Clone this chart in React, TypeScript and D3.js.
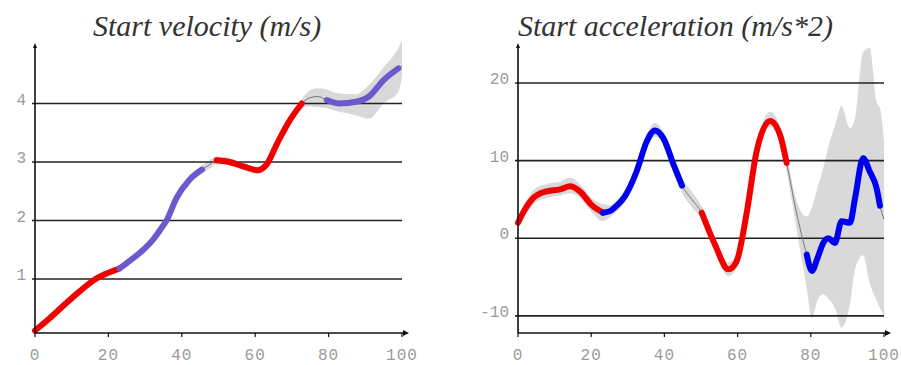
import React from "react";
import * as d3 from "d3";

// Start velocity (m/s)
const velT = [0, 4, 8, 12, 16, 19, 23, 26, 29, 32, 34, 36, 38.5, 42, 45.5, 47.5, 49.5, 53, 57, 60.5, 63, 66, 69.5, 72.7, 75, 77, 79.5, 83, 87.5, 91, 95, 99, 100];
const velV = [0.12, 0.33, 0.56, 0.78, 0.98, 1.08, 1.18, 1.32, 1.47, 1.66, 1.83, 2.02, 2.38, 2.69, 2.87, 2.95, 3.03, 3.0, 2.92, 2.86, 2.95, 3.32, 3.72, 4.0, 4.1, 4.12, 4.06, 4.0, 4.03, 4.12, 4.4, 4.6, 4.64];
const velLo = [0.08, 0.28, 0.51, 0.73, 0.93, 1.03, 1.13, 1.26, 1.41, 1.6, 1.77, 1.96, 2.32, 2.63, 2.8, 2.88, 2.96, 2.94, 2.86, 2.8, 2.89, 3.26, 3.66, 3.93, 3.95, 3.94, 3.92, 3.86, 3.8, 3.74, 4.0, 4.2, 4.46];
const velHi = [0.17, 0.38, 0.61, 0.83, 1.03, 1.13, 1.24, 1.38, 1.53, 1.72, 1.89, 2.08, 2.44, 2.75, 2.94, 3.03, 3.1, 3.07, 2.98, 2.92, 3.01, 3.38, 3.78, 4.08, 4.23, 4.26, 4.24, 4.17, 4.16, 4.32, 4.62, 4.95, 5.08];
const velSegments: [number, number, string][] = [
  [0, 23, "#f20000"],
  [23, 45.5, "#6a5acd"],
  [49.5, 72.7, "#f20000"],
  [79.5, 99, "#6a5acd"],
];
const velTicks = [1, 2, 3, 4];

// Start acceleration (m/s*2)
const accT = [0, 2, 4.2, 7.8, 11.5, 14.2, 16.9, 20.1, 23.2, 25.1, 27, 29.2, 32.4, 35.2, 37.4, 39.7, 42.5, 44.8, 47.5, 50.2, 53.8, 57.5, 59.7, 62.4, 65.2, 68.9, 71.6, 73.4, 76, 78.9, 80.3, 81.8, 83.4, 84.8, 86.6, 88.4, 90.7, 92.1, 94.3, 96.1, 98, 98.9, 100];
const accV = [2.0, 3.8, 5.2, 6.05, 6.3, 6.7, 6.05, 4.3, 3.3, 3.5, 4.2, 5.4, 8.6, 12.5, 13.9, 12.9, 9.5, 6.8, 5.0, 3.3, -0.8, -4.0, -3.0, 3.05, 11.2, 15.1, 13.3, 9.7, 3.5, -2.1, -4.2, -2.6, -0.6, 0.0, -0.6, 2.2, 2.0, 5.2, 10.3, 8.6, 6.4, 4.2, 2.5];
const accLo = [1.2, 3.0, 4.4, 5.2, 5.5, 5.8, 5.2, 3.4, 2.2, 2.7, 3.5, 4.7, 7.9, 11.7, 13.1, 12.1, 8.7, 5.9, 4.0, 2.5, -1.6, -4.9, -3.8, 2.3, 10.4, 14.3, 12.5, 8.6, 1.5, -6.5, -10.3, -8.0, -7.2, -7.8, -9.0, -11.5, -8.5, -4.0, -2.2, -5.8, -8.0, -9.0, -10.0];
const accHi = [2.8, 4.6, 6.2, 7.0, 7.3, 7.8, 7.0, 5.2, 4.4, 4.3, 4.9, 6.1, 9.3, 13.3, 14.9, 13.7, 10.3, 7.7, 6.0, 4.1, 0.0, -3.1, -2.2, 3.8, 12.0, 16.3, 14.3, 10.8, 5.0, 2.8, 4.0, 6.5, 9.0, 11.8, 14.5, 17.0, 14.2, 15.5, 24.0, 24.5, 17.5, 16.8, 12.5];
const accSegments: [number, number, string][] = [
  [0, 23.2, "#f20000"],
  [23.2, 44.8, "#0000ee"],
  [50.2, 73.4, "#f20000"],
  [78.9, 98.9, "#0000ee"],
];
const accTicks = [-10, 0, 10, 20];

const xTicks = [0, 20, 40, 60, 80, 100];

type Pt = { t: number; v: number; lo: number; hi: number };

interface PanelProps {
  title: string;
  titleX: number;
  left: number;
  right: number;
  yDomain: [number, number];
  t: number[];
  v: number[];
  lo: number[];
  hi: number[];
  segments: [number, number, string][];
  yTicks: number[];
}

function Panel(props: PanelProps) {
  const { title, titleX, left, right, yDomain, t, v, lo, hi, segments, yTicks } = props;
  const top = 45;
  const bottom = 333;
  const x = d3.scaleLinear().domain([0, 100]).range([left, right]);
  const y = d3.scaleLinear().domain(yDomain).range([bottom, top]);

  const pts: Pt[] = t.map((d, i) => ({ t: d, v: v[i], lo: lo[i], hi: hi[i] }));

  const band = d3
    .area<Pt>()
    .x((d) => x(d.t))
    .y0((d) => y(d.lo))
    .y1((d) => y(d.hi))
    .curve(d3.curveMonotoneX);
  const ln = d3
    .line<Pt>()
    .x((d) => x(d.t))
    .y((d) => y(d.v))
    .curve(d3.curveMonotoneX);

  const labelFont = "'Liberation Mono', 'DejaVu Sans Mono', monospace";

  return (
    <g>
      <text
        x={titleX}
        y={36}
        fontFamily="'Liberation Serif', 'DejaVu Serif', serif"
        fontStyle="italic"
        fontSize={30}
        fill="#333"
      >
        {title}
      </text>
      <path d={band(pts) || ""} fill="#d9d9d9" />
      {yTicks.map((tk) => (
        <g key={tk}>
          <line x1={left - 3} x2={right} y1={y(tk)} y2={y(tk)} stroke="#222" strokeWidth={1.6} />
          <text
            x={left - 9}
            y={y(tk) + 1}
            textAnchor="end"
            fontFamily={labelFont}
            fontSize={16}
            fill="#9a9a9a"
          >
            {tk}
          </text>
        </g>
      ))}
      <path d={ln(pts) || ""} fill="none" stroke="#777" strokeWidth={1} />
      {segments.map(([a, b, c], i) => (
        <path
          key={i}
          d={ln(pts.filter((p) => p.t >= a && p.t <= b)) || ""}
          fill="none"
          stroke={c}
          strokeWidth={6}
          strokeLinecap="round"
          strokeLinejoin="round"
        />
      ))}
      <line x1={left} x2={left} y1={bottom} y2={top} stroke="#111" strokeWidth={1.6} />
      <path d={`M${left - 2},${top + 3}L${left},${top - 2}L${left + 2},${top + 3}Z`} fill="#111" />
      <line x1={left} x2={right + 3} y1={bottom} y2={bottom} stroke="#111" strokeWidth={1.6} />
      <path d={`M${right + 1},${bottom - 3}L${right + 7},${bottom}L${right + 1},${bottom + 3}Z`} fill="#111" />
      {xTicks.map((tk) => (
        <g key={tk}>
          <line x1={x(tk)} x2={x(tk)} y1={bottom} y2={bottom + 4} stroke="#111" strokeWidth={1.2} />
          <text
            x={x(tk)}
            y={360}
            textAnchor="middle"
            fontFamily={labelFont}
            fontSize={16}
            letterSpacing={1}
            fill="#9a9a9a"
          >
            {tk}
          </text>
        </g>
      ))}
    </g>
  );
}

export default function App() {
  return (
    <svg
      width={901}
      height={365}
      style={{ position: "absolute", left: 0, top: 0, background: "#fff" }}
    >
      <Panel
        title="Start velocity (m/s)"
        titleX={93}
        left={35}
        right={402}
        yDomain={[0.077, 5.0]}
        t={velT}
        v={velV}
        lo={velLo}
        hi={velHi}
        segments={velSegments}
        yTicks={velTicks}
      />
      <Panel
        title="Start acceleration (m/s*2)"
        titleX={518}
        left={518}
        right={884}
        yDomain={[-12.2, 24.9]}
        t={accT}
        v={accV}
        lo={accLo}
        hi={accHi}
        segments={accSegments}
        yTicks={accTicks}
      />
    </svg>
  );
}
